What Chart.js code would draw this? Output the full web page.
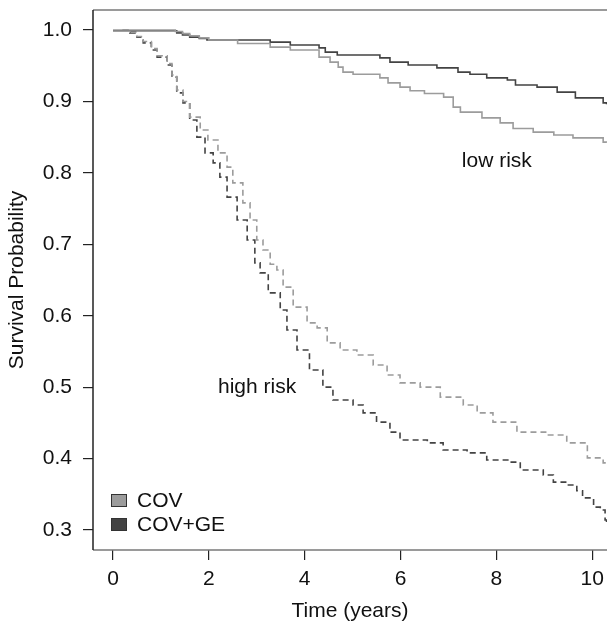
<!DOCTYPE html>
<html>
<head>
<meta charset="utf-8">
<script src="https://cdn.jsdelivr.net/npm/chart.js@4.4.1/dist/chart.umd.min.js"></script>
<style>
  html, body { margin: 0; padding: 0; background: #fff; }
  #wrap { width: 607px; height: 624px; }
</style>
</head>
<body>
<div id="wrap"><canvas id="km"></canvas></div>
<script>
// tick values
const xTicks = [0, 2, 4, 6, 8, 10];
const yTicks = [0.3, 0.4, 0.5, 0.6, 0.7, 0.8, 0.9, 1.0];

// low risk, COV+GE (dark solid)
const lowGeT = [0, 1.33, 1.45, 1.6, 1.8, 1.96, 3.28, 3.7, 4.3, 4.43, 4.68, 5.57, 5.78, 6.16, 6.76, 7.2, 7.45, 7.8, 8.23, 8.4, 8.85, 9.27, 9.65, 10.23, 10.3];
const lowGeS = [0.999, 0.996, 0.993, 0.99, 0.988, 0.986, 0.983, 0.979, 0.975, 0.969, 0.965, 0.961, 0.955, 0.951, 0.947, 0.941, 0.938, 0.933, 0.93, 0.923, 0.92, 0.913, 0.905, 0.898, 0.896];

// low risk, COV (light solid)
const lowCovT = [0, 1.3, 1.45, 1.6, 1.8, 2.0, 2.6, 3.28, 3.7, 4.3, 4.53, 4.7, 4.8, 5.01, 5.57, 5.74, 5.99, 6.2, 6.5, 6.9, 7.1, 7.25, 7.7, 8.08, 8.35, 8.77, 9.2, 9.6, 10.23, 10.3];
const lowCovS = [1.0, 0.998, 0.995, 0.992, 0.989, 0.986, 0.981, 0.976, 0.972, 0.962, 0.955, 0.948, 0.941, 0.938, 0.933, 0.926, 0.92, 0.915, 0.911, 0.906, 0.892, 0.885, 0.877, 0.87, 0.862, 0.857, 0.853, 0.849, 0.843, 0.842];

// high risk, COV+GE (dark dashed)
const highGeT = [0.2, 0.35, 0.5, 0.63, 0.8, 0.92, 1.13, 1.23, 1.33, 1.46, 1.6, 1.75, 1.92, 2.09, 2.23, 2.38, 2.59, 2.8, 2.96, 3.07, 3.24, 3.49, 3.63, 3.84, 4.1, 4.38, 4.59, 5.01, 5.22, 5.5, 5.78, 5.99, 6.56, 6.89, 7.39, 7.8, 8.29, 8.5, 8.98, 9.19, 9.47, 9.68, 9.8, 10.03, 10.17, 10.27, 10.3];
const highGeS = [1.0, 0.996, 0.99, 0.982, 0.972, 0.962, 0.951, 0.934, 0.912, 0.898, 0.874, 0.85, 0.828, 0.814, 0.794, 0.766, 0.734, 0.706, 0.674, 0.66, 0.632, 0.608, 0.58, 0.552, 0.524, 0.5, 0.482, 0.475, 0.464, 0.451, 0.437, 0.426, 0.422, 0.412, 0.408, 0.398, 0.395, 0.384, 0.377, 0.367, 0.363, 0.355, 0.345, 0.332, 0.328, 0.314, 0.31];

// high risk, COV (light dashed)
const highCovT = [0.2, 0.35, 0.5, 0.63, 0.8, 0.92, 1.13, 1.23, 1.33, 1.46, 1.6, 1.82, 1.98, 2.19, 2.38, 2.5, 2.71, 2.86, 3.0, 3.13, 3.28, 3.42, 3.55, 3.76, 4.05, 4.26, 4.47, 4.74, 5.09, 5.43, 5.72, 5.99, 6.41, 6.83, 7.31, 7.6, 7.93, 8.43, 9.06, 9.47, 9.9, 10.23, 10.3];
const highCovS = [1.0, 0.997, 0.991, 0.984, 0.974, 0.964, 0.953, 0.937, 0.916, 0.9, 0.878, 0.86, 0.846, 0.828, 0.808, 0.786, 0.758, 0.734, 0.706, 0.692, 0.672, 0.664, 0.64, 0.612, 0.59, 0.583, 0.562, 0.552, 0.545, 0.531, 0.517, 0.506, 0.5, 0.486, 0.475, 0.464, 0.451, 0.437, 0.433, 0.422, 0.401, 0.394, 0.394];

const legendNames = ['COV', 'COV+GE'];
const COL_COV = '#9c9c9c';
const COL_GE = '#434343';
const FONT = 'Liberation Sans, Arial, Helvetica, sans-serif';
const FSIZE = 21;

function pts(t, s) { return t.map((x, i) => ({ x: x, y: s[i] })); }

// R style box, legend and group labels
const extras = {
  id: 'extras',
  afterDatasetsDraw(chart) {
    const ctx = chart.ctx;
    const a = chart.chartArea;
    const xs = chart.scales.x, ys = chart.scales.y;
    ctx.save();
    ctx.lineWidth = 1.5;
    ctx.strokeStyle = '#7a7a7a';
    ctx.beginPath();
    ctx.moveTo(a.left, a.top); ctx.lineTo(a.right + 2, a.top);
    ctx.moveTo(a.left, a.bottom); ctx.lineTo(a.right + 2, a.bottom);
    ctx.stroke();
    ctx.strokeStyle = '#222';
    ctx.beginPath();
    ctx.moveTo(a.left, a.top); ctx.lineTo(a.left, a.bottom);
    ctx.stroke();

    // group labels
    ctx.fillStyle = '#111';
    ctx.font = FSIZE + 'px ' + FONT;
    ctx.textBaseline = 'alphabetic';
    ctx.textAlign = 'left';
    ctx.fillText('low risk', xs.getPixelForValue(7.28), ys.getPixelForValue(0.808));
    ctx.fillText('high risk', xs.getPixelForValue(2.19), ys.getPixelForValue(0.492));

    // legend
    const cols = [COL_COV, COL_GE];
    legendNames.forEach((name, i) => {
      const y = 494 + i * 24;
      ctx.fillStyle = cols[i];
      ctx.fillRect(111, y, 16, 13);
      ctx.strokeStyle = '#333';
      ctx.lineWidth = 1;
      ctx.strokeRect(111.5, y + 0.5, 15, 12);
      ctx.fillStyle = '#111';
      ctx.fillText(name, 137, y + 13);
    });
    ctx.restore();
  }
};

const ctx = document.getElementById('km').getContext('2d');
const chart = new Chart(ctx, {
  type: 'line',
  data: {
    datasets: [
      { label: 'low COV', data: pts(lowCovT, lowCovS), borderColor: COL_COV, borderWidth: 1.6, stepped: true, pointRadius: 0 },
      { label: 'low COV+GE', data: pts(lowGeT, lowGeS), borderColor: COL_GE, borderWidth: 1.6, stepped: true, pointRadius: 0 },
      { label: 'high COV', data: pts(highCovT, highCovS), borderColor: COL_COV, borderWidth: 1.6, borderDash: [6, 4], stepped: true, pointRadius: 0 },
      { label: 'high COV+GE', data: pts(highGeT, highGeS), borderColor: COL_GE, borderWidth: 1.6, borderDash: [6, 4], stepped: true, pointRadius: 0 }
    ]
  },
  options: {
    responsive: true,
    maintainAspectRatio: false,
    animation: false,
    layout: { padding: { top: 10, right: 0, left: 0, bottom: 0 } },
    plugins: { legend: { display: false }, tooltip: { enabled: false } },
    scales: {
      x: {
        type: 'linear', min: -0.418, max: 10.31,
        afterFit: s => { s.height = 74; s.paddingLeft = 0; s.paddingRight = 0; },
        afterBuildTicks: s => { s.ticks = xTicks.map(v => ({ value: v })); },
        grid: { drawOnChartArea: false, drawTicks: true, tickLength: 10, tickColor: '#222', lineWidth: 1.2 },
        border: { display: false },
        ticks: { color: '#111', font: { family: FONT, size: FSIZE }, padding: 7, maxRotation: 0, callback: v => String(v) },
        title: { display: true, text: 'Time (years)', color: '#111', font: { family: FONT, size: FSIZE }, padding: { top: 0, bottom: 0 } }
      },
      y: {
        type: 'linear', min: 0.272, max: 1.028,
        afterFit: s => { s.width = 93; s.paddingTop = 0; s.paddingBottom = 0; },
        afterBuildTicks: s => { s.ticks = yTicks.map(v => ({ value: v })); },
        grid: { drawOnChartArea: false, drawTicks: true, tickLength: 10, tickColor: '#222', lineWidth: 1.2 },
        border: { display: false },
        ticks: { color: '#111', font: { family: FONT, size: FSIZE }, padding: 11, callback: v => v.toFixed(1) },
        title: { display: true, text: 'Survival Probability', color: '#111', font: { family: FONT, size: FSIZE }, padding: { top: 5, bottom: 0 } }
      }
    }
  },
  plugins: [extras]
});
</script>
</body>
</html>
